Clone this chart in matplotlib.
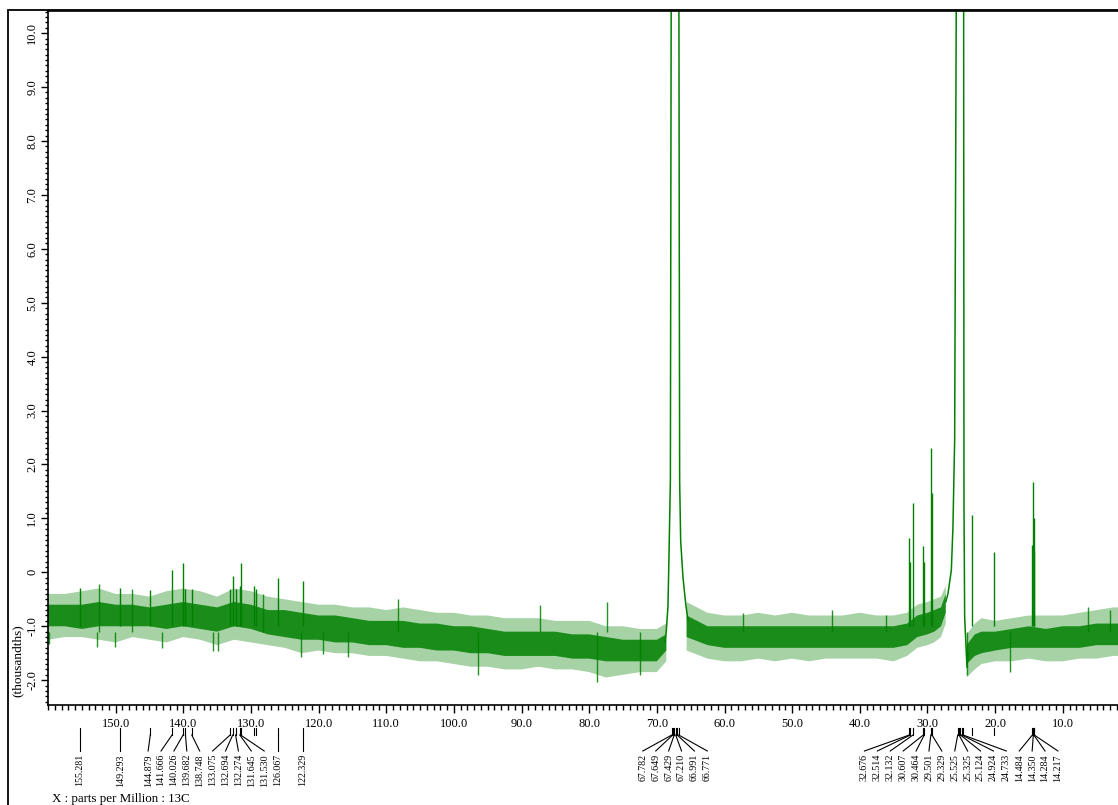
import numpy as np
import matplotlib
matplotlib.use("Agg")
import matplotlib.pyplot as plt
from matplotlib.lines import Line2D
from matplotlib.patches import Rectangle
from matplotlib.ticker import MultipleLocator, FixedLocator, FuncFormatter

plt.rcParams["font.family"] = ["Liberation Serif", "DejaVu Serif"]

GREEN = "#008000"
W, H = 1118, 805
nan = np.nan

# baseline noise envelope (ppm, thousandths); nan breaks the band at the solvent peaks
band_ppm = [160, 157.5, 155, 152.5, 150, 147.5, 145, 142.5, 140, 137.5, 135, 132.5,
            130, 127.5, 125, 122.5, 120, 117.5, 115, 112.5, 110, 107.5, 105, 102.5,
            100, 97.5, 95, 92.5, 90, 87.5, 85, 82.5, 80, 77.5, 75, 72.5, 70, 68.6,
            nan,
            65.6, 62.5, 60, 57.5, 55, 52.5, 50, 47.5, 45, 42.5, 40, 37.5, 35, 33,
            31.5, 30, 29, 28, 27.3,
            nan,
            24.2, 23, 22, 20, 17.5, 15, 12.5, 10, 7.5, 5, 2.5, 0]
core_hi = [-0.6, -0.6, -0.6, -0.55, -0.6, -0.6, -0.65, -0.6, -0.55, -0.6, -0.65, -0.55,
           -0.6, -0.7, -0.7, -0.75, -0.8, -0.8, -0.85, -0.9, -0.9, -0.9, -0.95, -0.95,
           -1.0, -1.0, -1.05, -1.1, -1.1, -1.1, -1.1, -1.15, -1.15, -1.2, -1.25, -1.25, -1.25, -1.15,
           nan,
           -0.8, -1.0, -1.0, -1.0, -1.0, -1.0, -1.0, -1.0, -1.0, -1.0, -1.0, -1.0, -1.0, -0.95,
           -0.8, -0.75, -0.7, -0.65, -0.4,
           nan,
           -1.35, -1.15, -1.1, -1.1, -1.05, -1.0, -1.05, -1.0, -1.0, -0.95, -0.95, -0.95]
core_lo = [-1.0, -1.0, -1.05, -1.0, -1.0, -1.0, -1.0, -1.05, -1.0, -1.05, -1.1, -1.0,
           -1.05, -1.15, -1.2, -1.25, -1.25, -1.3, -1.3, -1.35, -1.35, -1.4, -1.4, -1.45,
           -1.45, -1.5, -1.5, -1.55, -1.55, -1.55, -1.55, -1.6, -1.6, -1.65, -1.65, -1.65, -1.65, -1.45,
           nan,
           -1.2, -1.35, -1.4, -1.4, -1.4, -1.4, -1.4, -1.4, -1.4, -1.4, -1.4, -1.4, -1.4, -1.35,
           -1.2, -1.15, -1.1, -1.0, -0.75,
           nan,
           -1.7, -1.55, -1.5, -1.45, -1.4, -1.4, -1.4, -1.4, -1.4, -1.35, -1.35, -1.35]
outer_hi = [-0.4, -0.4, -0.35, -0.3, -0.4, -0.4, -0.45, -0.35, -0.3, -0.35, -0.45, -0.3,
            -0.35, -0.45, -0.5, -0.55, -0.6, -0.6, -0.65, -0.65, -0.7, -0.65, -0.7, -0.75,
            -0.75, -0.8, -0.8, -0.85, -0.85, -0.85, -0.9, -0.9, -0.9, -1.0, -1.0, -1.05, -1.05, -0.95,
            nan,
            -0.55, -0.75, -0.8, -0.8, -0.75, -0.8, -0.75, -0.8, -0.8, -0.8, -0.75, -0.8, -0.8, -0.75,
            -0.6, -0.55, -0.5, -0.45, -0.25,
            nan,
            -1.15, -0.95, -0.85, -0.9, -0.85, -0.8, -0.8, -0.8, -0.75, -0.7, -0.65, -0.65]
outer_lo = [-1.25, -1.2, -1.2, -1.25, -1.3, -1.2, -1.25, -1.3, -1.2, -1.25, -1.35, -1.25,
            -1.3, -1.35, -1.4, -1.5, -1.45, -1.5, -1.5, -1.55, -1.55, -1.6, -1.65, -1.65,
            -1.7, -1.75, -1.75, -1.8, -1.8, -1.75, -1.8, -1.8, -1.85, -1.95, -1.9, -1.85, -1.85, -1.65,
            nan,
            -1.45, -1.6, -1.65, -1.65, -1.6, -1.65, -1.6, -1.65, -1.6, -1.6, -1.6, -1.6, -1.65, -1.55,
            -1.4, -1.35, -1.3, -1.2, -0.95,
            nan,
            -1.95, -1.8, -1.7, -1.65, -1.65, -1.6, -1.65, -1.65, -1.6, -1.6, -1.55, -1.55]

# isolated noise excursions (ppm, tip value)
noise_ppm = [159.8, 152.4, 152.8, 150.1, 147.6, 143.2, 135.6, 134.9, 128.2, 122.6,
             119.4, 115.7, 108.3, 96.5, 87.3, 78.8, 77.4, 72.5, 57.3, 44.1, 36.2,
             24.1, 17.8, 6.2, 3.0]
noise_val = [-1.32, -0.22, -1.39, -1.39, -0.3, -1.41, -1.45, -1.45, -0.4, -1.57,
             -1.51, -1.57, -0.5, -1.9, -0.6, -2.04, -0.55, -1.9, -0.75, -0.7, -0.8,
             -1.9, -1.85, -0.65, -0.7]

# sharp resonances: position and top of each line
spike_ppm = [155.281, 149.293, 144.879, 141.666, 140.026, 139.682, 138.748, 133.075,
             132.694, 132.274, 131.645, 131.530, 129.5, 129.2, 126.067, 122.329,
             32.676, 32.514, 32.132, 30.607, 30.464, 29.501, 29.329, 23.35, 20.2,
             14.484, 14.350, 14.284, 14.217]
spike_top = [-0.29, -0.29, -0.32, 0.05, 0.18, -0.3, -0.3, -0.3,
             -0.06, -0.3, -0.25, 0.18, -0.26, -0.3, -0.1, -0.16,
             0.63, 0.2, 1.29, 0.48, 0.2, 2.31, 1.47, 1.07, 0.37,
             0.5, 1.67, 1.0, 0.4]

# solvent multiplets (off scale)
solv1_ppm = [68.8, 68.6, 68.36, 68.21, 68.0, 67.88, 66.74, 66.63, 66.48, 66.14, 65.74, 65.4]
solv1_val = [-1.3, -1.08, -0.64, 0.28, 1.7, 10.6, 10.6, 1.7, 0.59, -0.09, -0.58, -0.89]
solv2_ppm = [27.3, 26.97, 26.47, 26.23, 25.98, 25.74, 24.65, 24.6, 24.5, 24.16, 24.0]
solv2_val = [-0.55, -0.4, 0.04, 0.84, 2.45, 10.6, 10.6, 1.28, -0.83, -1.76, -1.5]

# peak picking
label_ppm = [155.281, 149.293, 144.879, 141.666, 140.026, 139.682, 138.748, 133.075,
             132.694, 132.274, 131.645, 131.530, 126.067, 122.329,
             67.782, 67.649, 67.429, 67.210, 66.991, 66.771,
             32.676, 32.514, 32.132, 30.607, 30.464, 29.501, 29.329,
             25.525, 25.325, 25.124, 24.924, 24.733,
             14.484, 14.350, 14.284, 14.217]
unlabeled_ppm = [129.5, 129.2, 23.35, 20.2]

x_major = [150, 140, 130, 120, 110, 100, 90, 80, 70, 60, 50, 40, 30, 20, 10]


def spread(xs, gap):
    """Push label positions apart until neighbours are at least `gap` px apart."""
    pos = list(xs)
    for _ in range(2000):
        moved = False
        for i in range(len(pos) - 1):
            d = pos[i + 1] - pos[i]
            if d < gap - 1e-6:
                s = (gap - d) / 2
                pos[i] -= s
                pos[i + 1] += s
                moved = True
        if not moved:
            break
    return pos


fig = plt.figure(figsize=(W / 100, H / 100), dpi=100)
ax = fig.add_axes([48 / W, 100 / H, 1082.4 / W, 694 / H])
ax.set_xlim(160, 0)
ax.set_ylim(-2.46, 10.41)

ax.fill_between(band_ppm, outer_lo, outer_hi, color=GREEN, alpha=0.35, lw=0)
ax.fill_between(band_ppm, core_lo, core_hi, color=GREEN, alpha=0.85, lw=0)
ax.vlines(noise_ppm, -1.1, noise_val, color=GREEN, lw=1.0, alpha=0.85)
ax.vlines(spike_ppm, -1.0, spike_top, color=GREEN, lw=1.0)
ax.plot(solv1_ppm, solv1_val, color=GREEN, lw=1.1)
ax.plot(solv2_ppm, solv2_val, color=GREEN, lw=1.1)

# axes styling
fmt = FuncFormatter(lambda v, p: "0" if abs(v) < 1e-9 else f"{v:.1f}")
ax.xaxis.set_major_locator(FixedLocator(x_major))
ax.xaxis.set_minor_locator(MultipleLocator(1))
ax.yaxis.set_major_locator(MultipleLocator(1))
ax.yaxis.set_minor_locator(MultipleLocator(0.1))
ax.xaxis.set_major_formatter(fmt)
ax.yaxis.set_major_formatter(fmt)
ax.tick_params(axis="both", which="both", direction="out", top=False, right=False,
               width=1, color="black")
ax.tick_params(axis="x", which="major", length=6, labelsize=9, pad=3)
ax.tick_params(axis="x", which="minor", length=3.5)
ax.tick_params(axis="y", which="major", length=5, labelsize=9, labelrotation=90, pad=2)
ax.tick_params(axis="y", which="minor", length=2.5)
plt.setp(ax.get_yticklabels(), va="center")
for sp in ax.spines.values():
    sp.set_linewidth(1.2)

# outer frame
fig.add_artist(Rectangle((8 / W, -0.1), 1.5, (H - 10.5) / H + 0.1, transform=fig.transFigure,
                         fill=False, lw=1.3, ec="black"))

fig.text(18 / W, (H - 661) / H, "(thousandths)", rotation=90, ha="center", va="center",
         fontsize=9.6)
fig.text(52 / W, 3 / H, "X : parts per Million : 13C", ha="left", va="baseline", fontsize=9.4)


def fy(ypix):
    return (H - ypix) / H


def px(ppm):
    return ax.transData.transform((ppm, 0))[0]


for p in unlabeled_ppm + label_ppm:
    x = px(p)
    fig.add_artist(Line2D([x / W, x / W], [fy(727.7), fy(735)], color="black", lw=0.8))

peak_x = [px(p) for p in label_ppm]
lab_x = spread(peak_x, 12.9)
for p, x, lx in zip(label_ppm, peak_x, lab_x):
    fig.add_artist(Line2D([x / W, lx / W], [fy(735), fy(751)], color="black", lw=0.8))
    fig.text(lx / W, fy(754), f"{p:.3f}", rotation=90, ha="center", va="top", fontsize=7.2)

fig.savefig("out.png", dpi=100)
